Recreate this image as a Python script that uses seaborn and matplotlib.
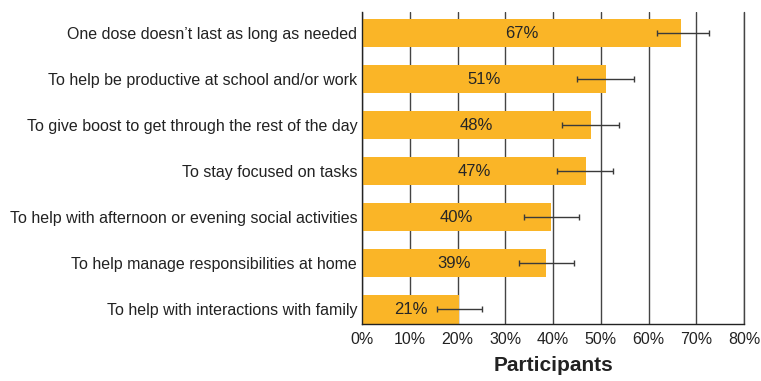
import matplotlib
matplotlib.use('Agg')
import numpy as np
import pandas as pd
import seaborn as sns
import matplotlib.pyplot as plt
from matplotlib.ticker import PercentFormatter

# data
reasons = [
    "One dose doesn\u2019t last as long as needed",
    "To help be productive at school and/or work",
    "To give boost to get through the rest of the day",
    "To stay focused on tasks",
    "To help with afternoon or evening social activities",
    "To help manage responsibilities at home",
    "To help with interactions with family",
]
pct = [66.9, 51.0, 48.0, 46.9, 39.6, 38.5, 20.3]
pct_labels = ["67%", "51%", "48%", "47%", "40%", "39%", "21%"]
ci_low = [61.7, 45.1, 41.9, 40.8, 34.0, 32.9, 15.8]
ci_high = [72.7, 56.9, 53.8, 52.6, 45.4, 44.3, 25.1]

df = pd.DataFrame({"reason": reasons, "pct": pct})

sns.set_style("white")
plt.rcParams['font.family'] = ['Liberation Sans', 'DejaVu Sans']

fig = plt.figure(figsize=(7.61, 3.81), dpi=100)
ax = fig.add_axes([0.4757, 0.1496, 0.502, 0.819])

sns.barplot(data=df, x="pct", y="reason", orient="h", color="#FAB527",
            saturation=1, width=0.61, linewidth=0, ax=ax, zorder=3)

ypos = np.arange(len(reasons))
xerr = [np.array(pct) - np.array(ci_low), np.array(ci_high) - np.array(pct)]
ax.errorbar(pct, ypos, xerr=xerr, fmt="none", ecolor="#3a3a3a",
            elinewidth=1, capsize=2.5, capthick=1, zorder=4)

for y, v, lab in zip(ypos, pct, pct_labels):
    ax.text(v / 2, y, lab, ha="center", va="center", fontsize=12,
            color="#262626", zorder=5)

ax.set_xlim(0, 80)
ax.set_ylim(6.315, -0.457)
ax.set_xticks(np.arange(0, 81, 10))
ax.xaxis.set_major_formatter(PercentFormatter(decimals=0))
ax.grid(axis="x", color="#444444", linewidth=1, zorder=0)
ax.axvline(80, color="#444444", linewidth=1, clip_on=False, zorder=1)
ax.set_axisbelow(True)
for s in ["top", "right"]:
    ax.spines[s].set_visible(False)
for s in ["left", "bottom"]:
    ax.spines[s].set_color("#222222")
    ax.spines[s].set_linewidth(1)
    ax.spines[s].set_zorder(6)
ax.tick_params(length=0, labelsize=11.5, colors="#222222")
ax.tick_params(axis="x", pad=6)
ax.set_ylabel("")
ax.set_xlabel("Participants", fontsize=15, fontweight="bold", color="#222222", labelpad=6)

plt.savefig("out.png", dpi=100)
